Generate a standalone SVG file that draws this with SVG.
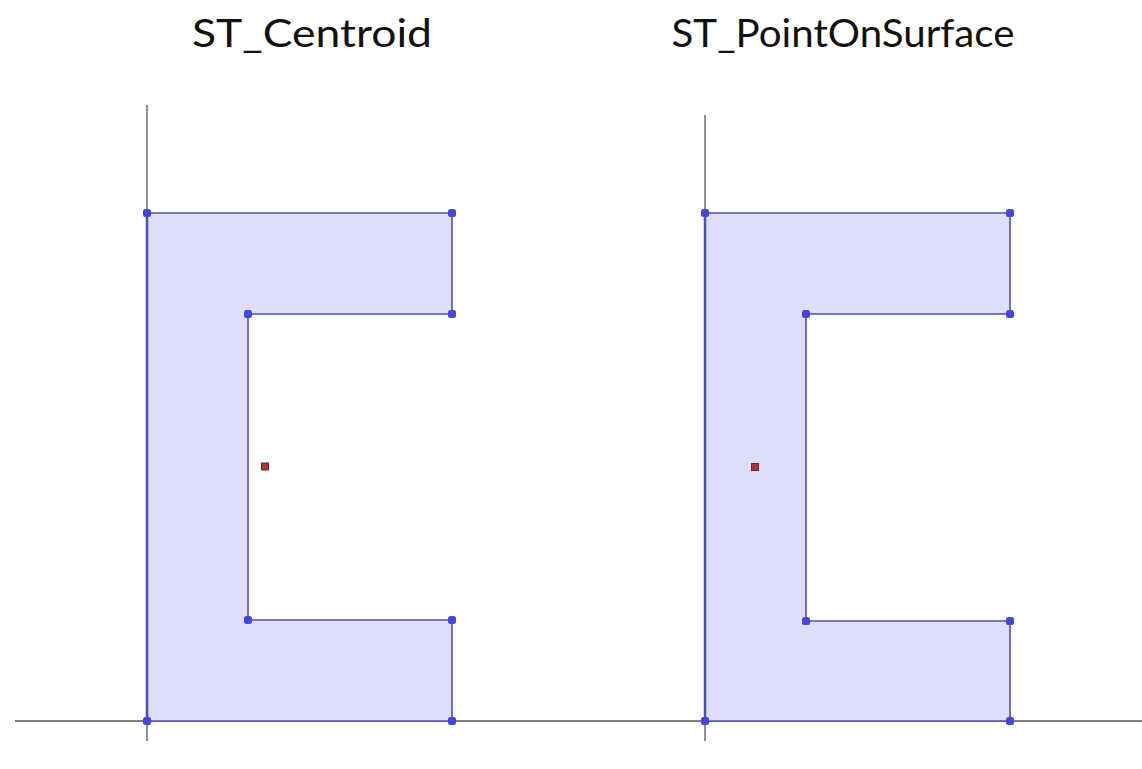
<svg xmlns="http://www.w3.org/2000/svg" width="1142" height="769" viewBox="0 0 1142 769">
<style>
.title{font-family:Lato,"Open Sans","Liberation Sans",sans-serif;font-size:38px;fill:#111;}
.axis{stroke:#555;stroke-width:1.3;fill:none;}
.shape{fill:#dedefb;stroke:#5252a8;stroke-width:1.6;}
.v{fill:#4646dc;}
.pt{fill:#b03040;stroke:#702030;stroke-width:1;}
</style>
<defs>
<rect id="vx" x="-4" y="-4" width="8" height="8" rx="2.5" class="v"/>
</defs>
<rect width="1142" height="769" fill="#fff"/>
<g id="axes">
<line class="axis" x1="15" y1="721" x2="1142" y2="721"/>
<line class="axis" x1="147" y1="105" x2="147" y2="741"/>
<line class="axis" x1="705" y1="115" x2="705" y2="741"/>
</g>
<g id="centroid">
<text class="title" x="312" y="47" text-anchor="middle" textLength="240" lengthAdjust="spacingAndGlyphs">ST_Centroid</text>
<path class="shape" d="M147 213 H452 V314 H248 V620 H452 V721 H147 Z"/>
<line x1="147" y1="213" x2="147" y2="721" stroke="#4e4eb0" stroke-width="2.5"/>
<use href="#vx" x="147" y="213"/><use href="#vx" x="452" y="213"/><use href="#vx" x="452" y="314"/><use href="#vx" x="248" y="314"/><use href="#vx" x="248" y="620"/><use href="#vx" x="452" y="620"/><use href="#vx" x="452" y="721"/><use href="#vx" x="147" y="721"/>
<rect class="pt" x="261.5" y="463" width="7" height="7"/>
</g>
<g id="pointonsurface">
<text class="title" x="843" y="47" text-anchor="middle" textLength="343" lengthAdjust="spacingAndGlyphs">ST_PointOnSurface</text>
<path class="shape" d="M705 213 H1010 V314 H806 V621 H1010 V721 H705 Z"/>
<line x1="705" y1="213" x2="705" y2="721" stroke="#4e4eb0" stroke-width="2.5"/>
<use href="#vx" x="705" y="213"/><use href="#vx" x="1010" y="213"/><use href="#vx" x="1010" y="314"/><use href="#vx" x="806" y="314"/><use href="#vx" x="806" y="621"/><use href="#vx" x="1010" y="621"/><use href="#vx" x="1010" y="721"/><use href="#vx" x="705" y="721"/>
<rect class="pt" x="751.5" y="463.5" width="7" height="7"/>
</g>
</svg>
